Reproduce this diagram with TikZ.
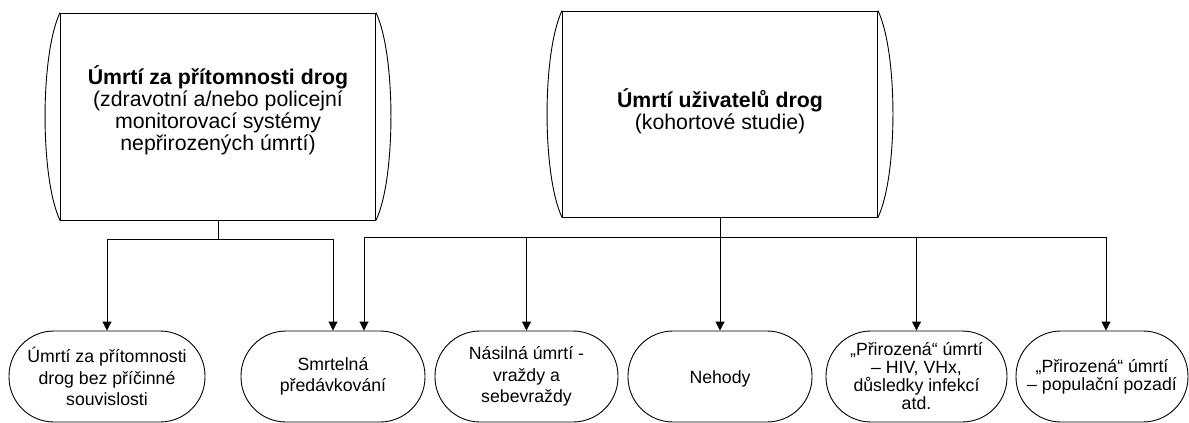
\documentclass[tikz,border=0pt]{standalone}
\usepackage{fontspec}
\setmainfont{Liberation Sans}
\usetikzlibrary{arrows.meta}
\begin{document}
\begin{tikzpicture}[x=1pt,y=-1pt,
  conn/.style={line width=0.9pt},
  arr/.style={conn,-{Triangle[length=9pt,width=9pt]}},
  bigbox/.style={draw,line width=0.9pt,minimum width=315pt,inner sep=0pt,align=center,
    font=\fontsize{21.3}{22}\selectfont},
  leaf/.style={draw,line width=0.9pt,rounded corners=45pt,minimum height=91pt,inner sep=0pt,
    align=center,font=\fontsize{17.7}{21.5}\selectfont},
  tight/.style={font=\fontsize{17.7}{18}\selectfont},
  lift/.style={execute at begin node={\rule{0pt}{#1}}},
  drop/.style={execute at end node={\rule[-#1]{0pt}{0pt}}}]
\useasboundingbox (0,0) rectangle (1189,423);
% top boxes
\node[bigbox,minimum height=207pt,drop=16pt] (b1) at (218,116.5)
  {\textbf{Úmrtí za přítomnosti drog}\\(zdravotní a/nebo policejní\\monitorovací systémy\\nepřirozených úmrtí)};
\node[bigbox,minimum height=206pt,drop=10.5pt] (b2) at (720,114)
  {\textbf{Úmrtí uživatelů drog}\\(kohortové studie)};
\foreach \b in {b1,b2}{
  \draw[conn] (\b.north west) .. controls +(-20,42) and +(-20,-42) .. (\b.south west);
  \draw[conn] (\b.north east) .. controls +(20,42) and +(20,-42) .. (\b.south east);
}
% leaves
\node[leaf,minimum width=196pt,lift=20.5pt] (l1) at (107,376.5) {Úmrtí za přítomnosti\\drog bez příčinné\\souvislosti};
\node[leaf,minimum width=184pt,lift=18pt] (l2) at (333,376.5) {Smrtelná\\předávkování};
\node[leaf,minimum width=183pt,lift=16pt] (l3) at (526.5,376.5) {Násilná úmrtí -\\vraždy a\\sebevraždy};
\node[leaf,minimum width=184pt,lift=17pt] (l4) at (720,376.5) {Nehody};
\node[leaf,tight,minimum width=181pt,lift=25pt] (l5) at (916.5,376.5) {„Přirozená“ úmrtí\\– HIV, VHx,\\důsledky infekcí\\atd.};
\node[leaf,tight,minimum width=172pt,lift=21pt] (l6) at (1102,376.5) {„Přirozená“ úmrtí\\– populační pozadí};
% connectors
\draw[conn] (b1.south) -- ++(0,19) coordinate (j1);
\draw[arr] (j1) -| (l1.north);
\draw[arr] (j1) -| (l2.north);
\draw[conn] (b2.south) -- ++(0,20) coordinate (j2);
\draw[arr] (j2) -| ([xshift=31pt]l2.north);
\draw[arr] (j2) -| (l3.north);
\draw[arr] (j2) -- (l4.north);
\draw[arr] (j2) -| (l5.north);
\draw[arr] (j2) -| ([xshift=4pt]l6.north);
\end{tikzpicture}
\end{document}
